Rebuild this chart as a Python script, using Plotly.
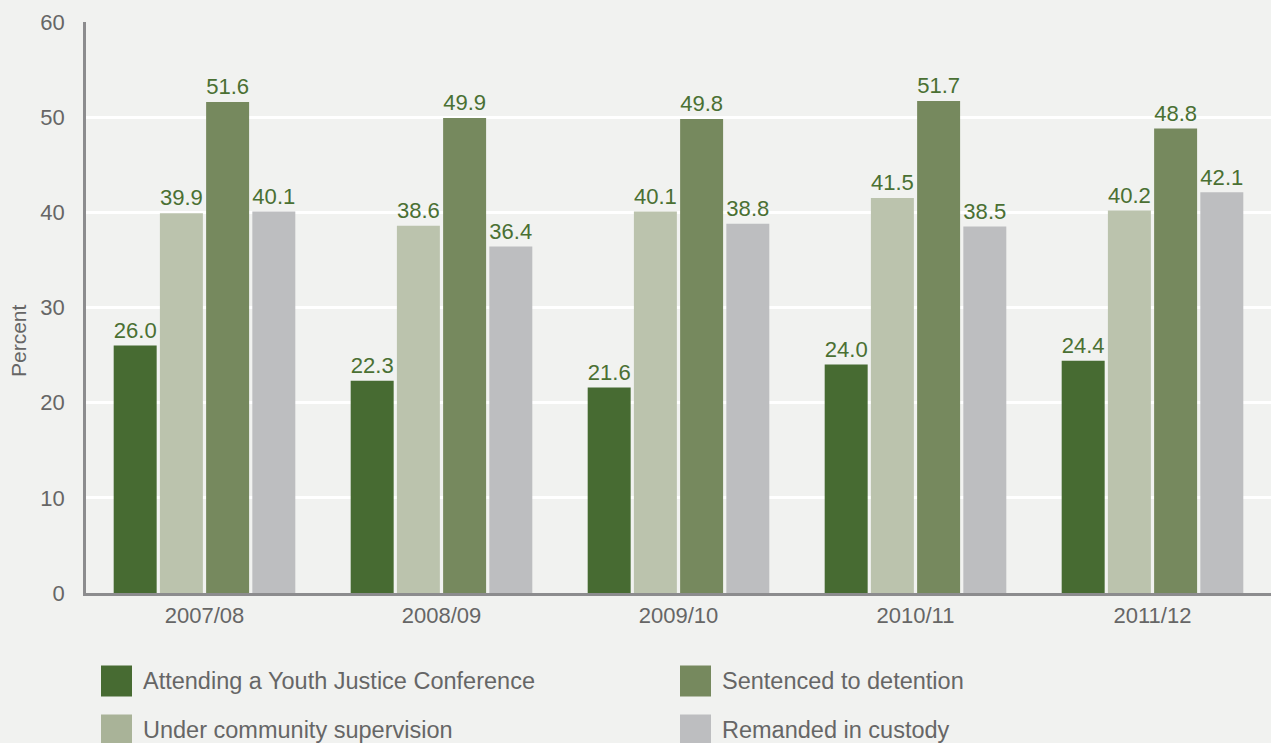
import plotly.graph_objects as go

years = ["2007/08", "2008/09", "2009/10", "2010/11", "2011/12"]
series_names = [
    "Attending a Youth Justice Conference",
    "Under community supervision",
    "Sentenced to detention",
    "Remanded in custody",
]
conference = [26.0, 22.3, 21.6, 24.0, 24.4]
community = [39.9, 38.6, 40.1, 41.5, 40.2]
detention = [51.6, 49.9, 49.8, 51.7, 48.8]
remanded = [40.1, 36.4, 38.8, 38.5, 42.1]
y_ticks = [0, 10, 20, 30, 40, 50, 60]

colors = ["#476b32", "#bbc3ad", "#76895e", "#bdbec0"]
legend_colors = ["#476b32", "#a9b398", "#76895e", "#bdbec0"]
values = [conference, community, detention, remanded]

FONT = "Liberation Sans, Arial, sans-serif"
bg = "#f1f2f0"
W, H = 1271, 743
L, T, B = 86, 22, 150
PW, PH = W - L, H - T - B

fig = go.Figure()
for name, vals, col in zip(series_names, values, colors):
    fig.add_trace(go.Bar(
        x=years, y=vals, name=name, marker=dict(color=col, line=dict(width=0)),
        text=[f"{v:.1f}" for v in vals], textposition="outside",
        textfont=dict(color="#4a7033", size=23, family=FONT),
        cliponaxis=False, showlegend=False,
    ))

fig.update_layout(
    width=W, height=H,
    paper_bgcolor=bg, plot_bgcolor=bg,
    margin=dict(l=L, r=0, t=T, b=B),
    barmode="group", bargap=0.22, bargroupgap=0.07,
    font=dict(family=FONT, color="#666666", size=20),
)
fig.update_xaxes(
    showline=True, linecolor="#8c8c8e", linewidth=2.5,
    ticks="", ticklabelstandoff=1, tickfont=dict(size=22, color="#666666"),
    showgrid=False,
)
fig.update_yaxes(
    range=[0, 60], tickvals=y_ticks, showgrid=True, gridcolor="#ffffff", gridwidth=2.5,
    showline=True, linecolor="#8c8c8e", linewidth=2.5, zeroline=False,
    ticks="", ticklabelstandoff=14, tickfont=dict(size=22, color="#666666"),
)

# Y-axis title placed as in the reference (slightly below centre)
fig.add_annotation(xref="paper", yref="paper", x=(18 - L) / PW, y=(H - B - 341) / PH,
                   text="Percent", textangle=-90, showarrow=False,
                   xanchor="center", yanchor="middle",
                   font=dict(size=21, color="#666666", family=FONT))

# Custom legend (two columns, two rows)
leg_pos = {0: (101, 681), 1: (101, 730), 2: (680, 681), 3: (680, 730)}
for i, name in enumerate(series_names):
    px, py = leg_pos[i]
    fig.add_shape(type="rect", xref="paper", yref="paper",
                  x0=(px - L) / PW, x1=(px + 31 - L) / PW,
                  y0=(H - B - (py + 15.5)) / PH, y1=(H - B - (py - 15.5)) / PH,
                  fillcolor=legend_colors[i], line=dict(width=0))
    fig.add_annotation(xref="paper", yref="paper", x=(px + 40 - L) / PW, y=(H - B - py) / PH,
                       text=name, showarrow=False, xanchor="left", yanchor="middle",
                       font=dict(size=23.5, color="#666666", family=FONT))

fig.write_html(
    "out.html",
    config={"displayModeBar": False},
    post_script="document.body.style.margin='0';document.body.style.background='#f1f2f0';",
)
